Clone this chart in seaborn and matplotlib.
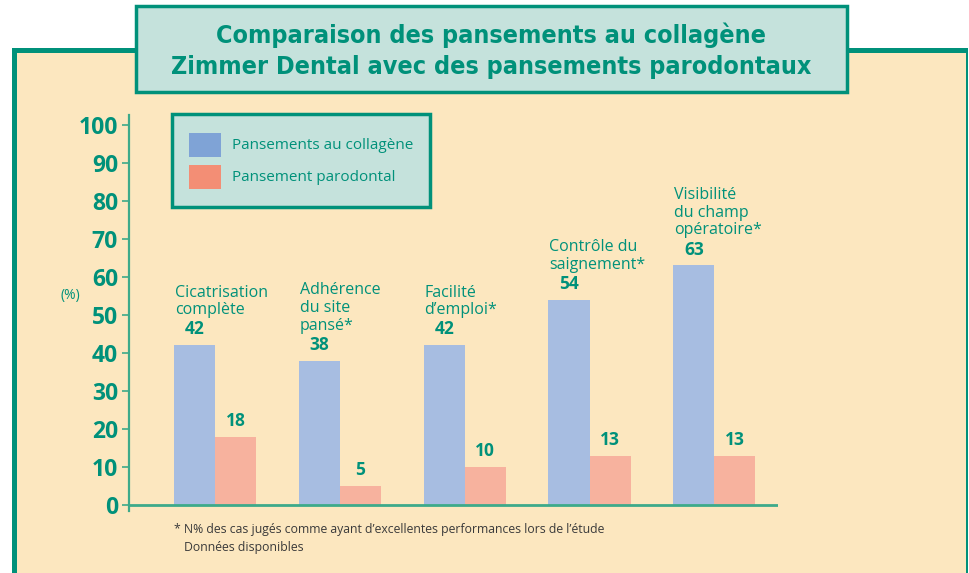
import matplotlib
matplotlib.use("Agg")
import matplotlib.pyplot as plt
import seaborn as sns
import pandas as pd
from matplotlib.patches import Rectangle, Patch
from matplotlib.legend_handler import HandlerPatch

# données
categories = ["Cicatrisation\ncomplète", "Adhérence\ndu site\npansé*", "Facilité\nd\u2019emploi*",
              "Contrôle du\nsaignement*", "Visibilité\ndu champ\nopératoire*"]
collagene = [42, 38, 42, 54, 63]
parodontal = [18, 5, 10, 13, 13]
series = ["Pansements au collagène", "Pansement parodontal"]
yticks = [0, 10, 20, 30, 40, 50, 60, 70, 80, 90, 100]

GREEN = "#00917A"
AXIS_GREEN = "#3DAA8A"
BEIGE = "#FCE7BF"
TEAL_BOX = "#C5E2DC"
BAR_COLORS = ["#A7BDE1", "#F7B29E"]
LEG_COLORS = ["#7FA3D6", "#F38E75"]

W, H = 970, 573

sns.set_theme(style="white")
plt.rcParams["font.family"] = ["Open Sans", "DejaVu Sans"]

df = pd.DataFrame({
    "cat": categories * 2,
    "serie": [series[0]] * 5 + [series[1]] * 5,
    "val": collagene + parodontal,
})


def fx(x):
    return x / W


def fy(y):
    return 1 - y / H


def small_rect(legend, orig_handle, xdescent, ydescent, width, height, fontsize):
    # carré de légende de 24 px centré dans la ligne
    h = 24 * 0.72
    return Rectangle((-xdescent, -ydescent + (height - h) / 2), width, h)


fig = plt.figure(figsize=(W / 100, H / 100), dpi=100)
fig.patch.set_facecolor("white")

# cadre extérieur
fig.add_artist(Rectangle((fx(12), fy(583)), fx(968 - 12), (583 - 48) / H,
                         transform=fig.transFigure, facecolor=GREEN, edgecolor="none", zorder=0))
fig.add_artist(Rectangle((fx(17), fy(583)), fx(966 - 17), (583 - 53) / H,
                         transform=fig.transFigure, facecolor=BEIGE, edgecolor="none", zorder=0))

ax = fig.add_axes([fx(129), fy(511), fx(778 - 129), (511 - 115) / H])
ax.set_facecolor("none")

sns.barplot(data=df, x="cat", y="val", hue="serie", hue_order=series,
            palette=BAR_COLORS, saturation=1, width=0.658, legend=False,
            linewidth=0, edgecolor="none", ax=ax)

ax.set_xlim(-0.689, 4.51)
ax.set_ylim(-1.6, 102.6)
ax.set_xlabel("")
ax.set_ylabel("")
ax.set_xticks([])
ax.set_yticks(yticks)
ax.set_yticklabels([str(t) for t in yticks], fontsize=16.5, fontweight="bold", color=GREEN)
ax.tick_params(axis="y", direction="out", length=5, width=1.2, color=AXIS_GREEN, pad=3, left=True)
for s in ["top", "right", "bottom"]:
    ax.spines[s].set_visible(False)
ax.spines["left"].set_color(AXIS_GREEN)
ax.spines["left"].set_linewidth(1.6)
ax.axhline(0, color=AXIS_GREEN, linewidth=2, zorder=5)

# valeurs au-dessus des barres
for cont in ax.containers:
    ax.bar_label(cont, padding=5, fontsize=12.5, fontweight="bold", color=GREEN)

# libellés des catégories
blue_bars = ax.containers[0]
for bar, lab in zip(blue_bars, categories):
    ax.annotate(lab, (bar.get_x(), bar.get_height()), xytext=(1, 27),
                textcoords="offset pixels", ha="left", va="bottom",
                fontsize=11.5, color=GREEN, linespacing=1.15)

# légende
handles = [Patch(facecolor=c, edgecolor="none") for c in LEG_COLORS]
leg = fig.legend(handles, series, loc="upper left", bbox_to_anchor=(fx(172), fy(114)),
                 bbox_transform=fig.transFigure, borderaxespad=0, fontsize=11,
                 handlelength=2.1, handleheight=2.4, labelspacing=0.3,
                 handletextpad=0.7, borderpad=1.1, fancybox=False, framealpha=1,
                 handler_map={Patch: HandlerPatch(patch_func=small_rect)})
leg.get_frame().set_facecolor(TEAL_BOX)
leg.get_frame().set_edgecolor(GREEN)
leg.get_frame().set_linewidth(2.5)
for t in leg.get_texts():
    t.set_color(GREEN)

# titre
fig.add_artist(Rectangle((fx(136), fy(92)), fx(847 - 136), (92 - 6) / H,
                         transform=fig.transFigure, facecolor=TEAL_BOX, edgecolor=GREEN,
                         linewidth=2.5, zorder=3))
fig.text(fx(491), fy(51), "Comparaison des pansements au collagène\nZimmer Dental avec des pansements parodontaux",
         ha="center", va="center", fontsize=18, fontweight="bold", color=GREEN,
         family=["DejaVu Sans"], fontstretch="condensed", linespacing=1.35, zorder=4)

fig.text(fx(70), fy(296), "(%)", ha="center", va="center", fontsize=10, color=GREEN)

fig.text(fx(174), fy(530), "* N% des cas jugés comme ayant d\u2019excellentes performances lors de l\u2019étude",
         ha="left", va="center", fontsize=8.8, color="#3A3A3A")
fig.text(fx(184), fy(547), "Données disponibles", ha="left", va="center", fontsize=8.8, color="#3A3A3A")

fig.savefig("out.png", dpi=100)
